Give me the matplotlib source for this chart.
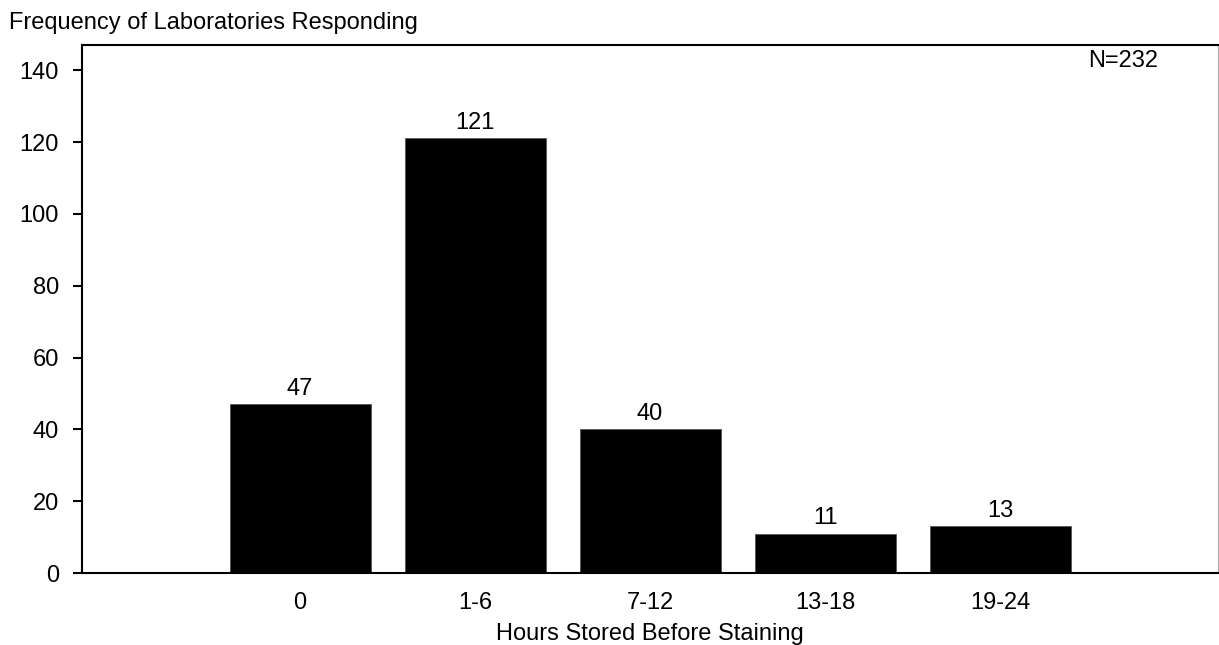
import matplotlib.pyplot as plt

plt.rcParams['font.family'] = ['Liberation Sans', 'DejaVu Sans']

categories = ['0', '1-6', '7-12', '13-18', '19-24']
counts = [47, 121, 40, 11, 13]
yticks = [0, 20, 40, 60, 80, 100, 120, 140]

fig = plt.figure(figsize=(12.19, 6.45), dpi=100)
ax = fig.add_axes([0.0673, 0.1116, 0.932, 0.8186])

x = list(range(len(categories)))
ax.bar(x, counts, width=0.806, color='black', edgecolor='#555555', linewidth=0.6)
for xi, v in zip(x, counts):
    ax.text(xi, v + 1.2, str(v), ha='center', va='bottom', fontsize=17)

ax.set_xlim(-1.246, 5.246)
ax.set_ylim(0, 147)
ax.set_xticks(x)
ax.set_xticklabels(categories)
ax.set_yticks(yticks)
ax.tick_params(axis='x', length=0, labelsize=17, pad=14)
ax.tick_params(axis='y', length=6.5, width=1.5, labelsize=17, pad=10)

for s in ['left', 'bottom', 'top']:
    ax.spines[s].set_linewidth(1.5)
ax.spines['right'].set_color('#aaaaaa')
ax.spines['right'].set_linewidth(0.8)

ax.set_xlabel('Hours Stored Before Staining', fontsize=17, labelpad=6)
fig.text(0.007, 0.965, 'Frequency of Laboratories Responding', fontsize=17, va='center', ha='left')
ax.text(0.916, 0.99, 'N=232', transform=ax.transAxes, fontsize=17, ha='center', va='top')

fig.savefig('out.png', dpi=100)
